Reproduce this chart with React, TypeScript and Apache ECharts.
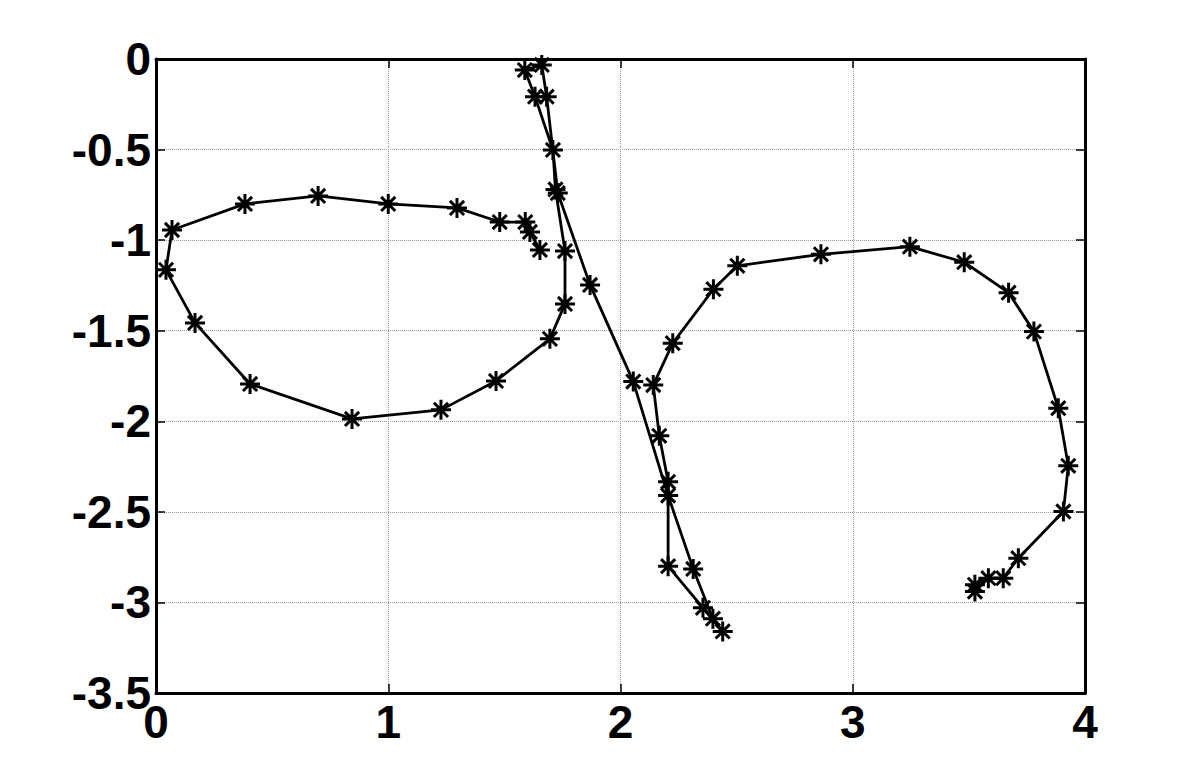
import React, { useEffect, useRef } from "react";
import * as echarts from "echarts";

const xs = [
  3.526, 3.526, 3.584, 3.648, 3.713, 3.907, 3.928, 3.885, 3.78, 3.671, 3.48, 3.246, 2.863, 2.503,
  2.4, 2.225, 2.141, 2.167, 2.205, 2.205, 2.355, 2.44, 2.398, 2.313, 2.205, 2.055, 1.869, 1.73,
  1.682, 1.661, 1.588, 1.632, 1.709, 1.72, 1.761, 1.761, 1.696, 1.464, 1.227, 0.844, 0.405, 0.168,
  0.043, 0.069, 0.383, 0.698, 1.0, 1.296, 1.48, 1.59, 1.61, 1.653,
];
const ys = [
  -2.94, -2.903, -2.866, -2.866, -2.756, -2.498, -2.246, -1.928, -1.505, -1.29, -1.122, -1.036,
  -1.078, -1.142, -1.271, -1.569, -1.8, -2.08, -2.334, -2.8, -3.03, -3.16, -3.09, -2.815, -2.41,
  -1.781, -1.247, -0.74, -0.208, -0.033, -0.061, -0.208, -0.502, -0.72, -1.06, -1.352, -1.545,
  -1.777, -1.937, -1.987, -1.794, -1.457, -1.164, -0.944, -0.8, -0.756, -0.8, -0.822, -0.9, -0.9,
  -0.955, -1.054,
];
const xTicks = { min: 0, max: 4, interval: 1 };
const yTicks = { min: -3.5, max: 0, interval: 0.5 };

const STAR = "path://M0,-10L0,10M-10,0L10,0M-7.07,-7.07L7.07,7.07M-7.07,7.07L7.07,-7.07";

export default function App() {
  const ref = useRef<HTMLDivElement>(null);
  useEffect(() => {
    document.body.style.margin = "0";
    const chart = echarts.init(ref.current!, null, { renderer: "svg" });
    const font = {
      fontFamily: "Liberation Sans, Arial, sans-serif",
      fontWeight: "bold" as const,
      fontSize: 46,
      color: "#000",
    };
    const tick = { show: true, inside: true, length: 9, lineStyle: { color: "#000", width: 1.5 } };
    const axisLine = { show: true, onZero: false, lineStyle: { color: "#000", width: 3 } };
    const split = { show: true, lineStyle: { color: "#9a9a9a", width: 1, type: "dotted" as const } };
    chart.setOption({
      animation: false,
      backgroundColor: "#fff",
      grid: { left: 156, right: 115, top: 59, bottom: 86, containLabel: false },
      xAxis: [
        {
          type: "value",
          ...xTicks,
          axisLine,
          axisTick: tick,
          splitLine: split,
          axisLabel: { ...font, margin: 6 },
        },
        {
          type: "value",
          position: "top",
          ...xTicks,
          axisLine,
          axisTick: tick,
          splitLine: { show: false },
          axisLabel: { show: false },
        },
      ],
      yAxis: [
        {
          type: "value",
          ...yTicks,
          axisLine,
          axisTick: tick,
          splitLine: split,
          axisLabel: { ...font, margin: 5 },
        },
        {
          type: "value",
          position: "right",
          ...yTicks,
          axisLine,
          axisTick: tick,
          splitLine: { show: false },
          axisLabel: { show: false },
        },
      ],
      series: [
        {
          type: "line",
          xAxisIndex: 0,
          yAxisIndex: 0,
          data: xs.map((x, i) => [x, ys[i]]),
          symbol: STAR,
          symbolSize: 20,
          showAllSymbol: true,
          lineStyle: { color: "#000", width: 2.8 },
          itemStyle: { color: "rgba(0,0,0,0)", borderColor: "#000", borderWidth: 3 },
          emphasis: { disabled: true },
        },
      ],
    });
    return () => chart.dispose();
  }, []);
  return <div ref={ref} style={{ width: 1200, height: 779 }} />;
}
